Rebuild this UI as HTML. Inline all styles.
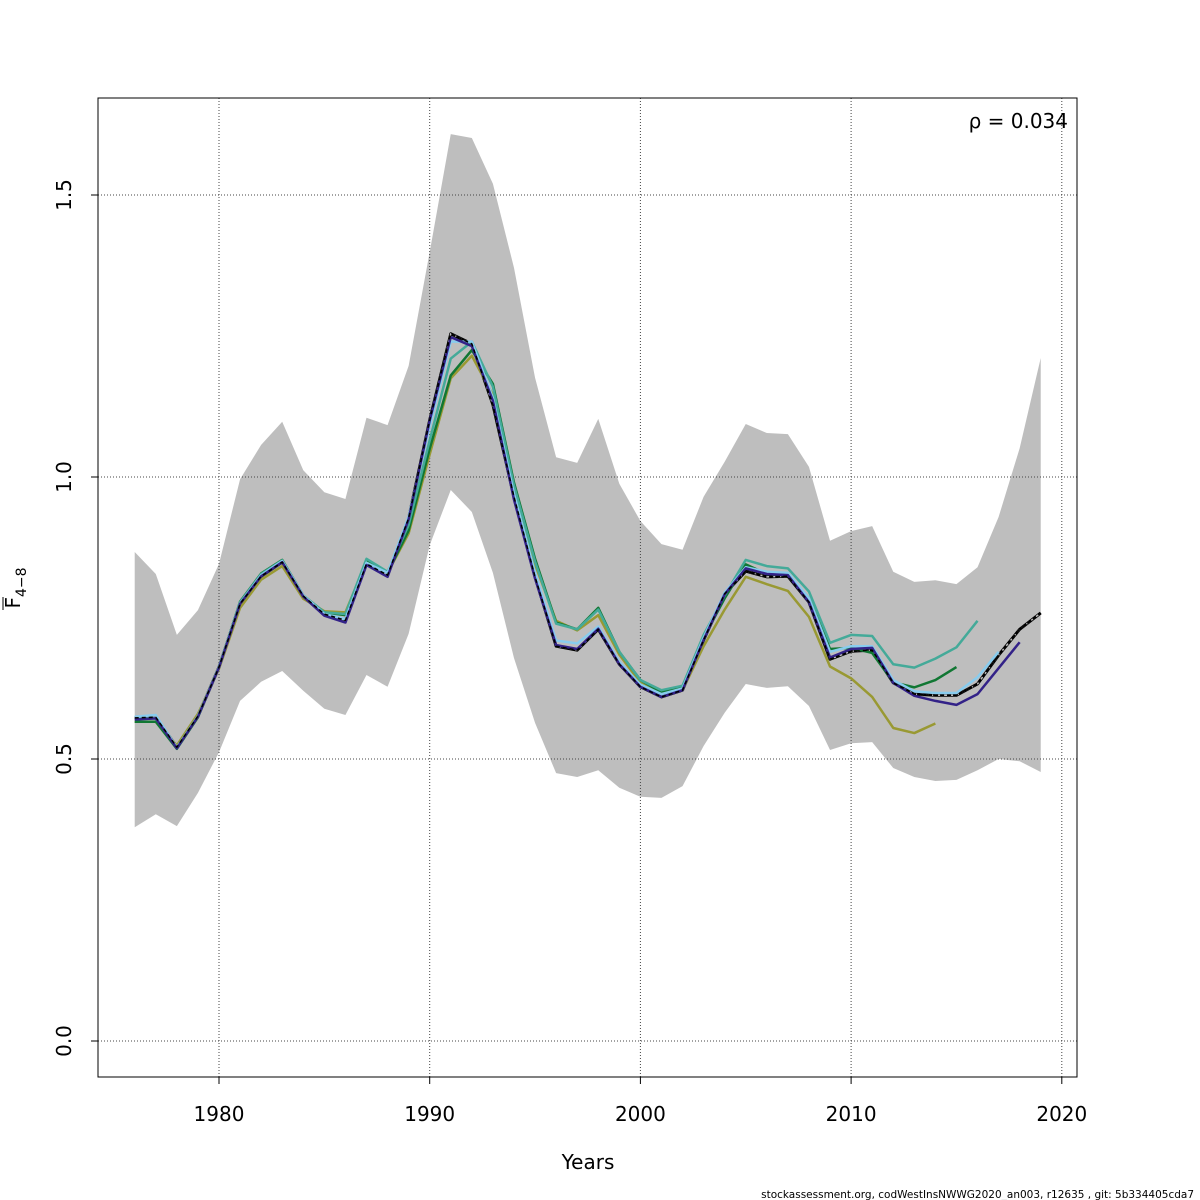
<!DOCTYPE html>
<html><head><meta charset="utf-8"><style>
body{margin:0;background:#fff}
svg{display:block;font-family:"DejaVu Sans","Liberation Sans",sans-serif}
</style></head><body>
<svg id="chart" width="1200" height="1200" viewBox="0 0 1200 1200">
<rect width="1200" height="1200" fill="#fff"/>
<g id="band"></g>
<g id="grid"></g>
<g id="lines"></g>
<rect x="98" y="98" width="979" height="979" fill="none" stroke="#000" stroke-width="1"/>
<g id="axes"></g>
<text x="1068" y="128" font-size="20" text-anchor="end">ρ = 0.034</text>
<text x="588" y="1169" font-size="20" text-anchor="middle">Years</text>
<g transform="translate(20,588) rotate(-90)">
<text x="0" y="0" font-size="20" text-anchor="middle">F<tspan font-size="14" dy="6">4−8</tspan></text>
<line x1="-22" y1="-17" x2="-9" y2="-17" stroke="#000" stroke-width="1"/>
</g>
<text x="1194" y="1198" font-size="10.5" text-anchor="end">stockassessment.org, codWestInsNWWG2020_an003, r12635 , git: 5b334405cda7</text>
</svg>
<script>
const years=[];for(let y=1976;y<=2019;y++)years.push(y);
const upper=[0.867,0.828,0.720,0.764,0.846,0.996,1.057,1.098,1.012,0.973,0.961,1.105,1.092,1.197,1.399,1.608,1.601,1.520,1.371,1.176,1.035,1.025,1.103,0.988,0.922,0.881,0.871,0.965,1.027,1.094,1.078,1.076,1.018,0.887,0.904,0.913,0.832,0.814,0.817,0.810,0.840,0.929,1.051,1.211];
const lower=[0.379,0.402,0.381,0.440,0.512,0.603,0.637,0.656,0.621,0.589,0.578,0.649,0.628,0.722,0.879,0.977,0.938,0.830,0.679,0.564,0.475,0.468,0.480,0.449,0.433,0.431,0.452,0.523,0.582,0.633,0.626,0.629,0.594,0.516,0.528,0.530,0.484,0.468,0.461,0.463,0.480,0.500,0.496,0.477];
const base=[0.573,0.574,0.521,0.576,0.663,0.775,0.824,0.849,0.789,0.757,0.746,0.846,0.826,0.927,1.101,1.254,1.236,1.128,0.965,0.823,0.700,0.693,0.730,0.668,0.628,0.610,0.622,0.711,0.793,0.833,0.823,0.824,0.778,0.677,0.691,0.693,0.635,0.615,0.613,0.613,0.633,0.684,0.730,0.759];
const peel1=[0.570,0.572,0.519,0.575,0.662,0.775,0.824,0.849,0.788,0.754,0.742,0.844,0.823,0.925,1.100,1.248,1.232,1.135,0.960,0.820,0.702,0.695,0.731,0.668,0.628,0.610,0.622,0.711,0.792,0.838,0.828,0.826,0.778,0.680,0.695,0.697,0.635,0.612,0.603,0.596,0.615,0.661,0.707];
const peel2=[0.575,0.578,0.520,0.576,0.663,0.776,0.826,0.851,0.790,0.757,0.748,0.848,0.830,0.930,1.090,1.240,1.240,1.140,0.970,0.830,0.710,0.705,0.735,0.672,0.632,0.615,0.625,0.715,0.795,0.840,0.832,0.830,0.785,0.690,0.700,0.700,0.640,0.620,0.617,0.617,0.645,0.690];
const peel3=[0.572,0.572,0.520,0.576,0.663,0.778,0.828,0.852,0.790,0.760,0.757,0.855,0.832,0.915,1.065,1.210,1.240,1.160,0.985,0.850,0.740,0.730,0.765,0.690,0.640,0.622,0.630,0.720,0.790,0.853,0.842,0.838,0.797,0.706,0.720,0.718,0.668,0.662,0.678,0.698,0.745];
const peel4=[0.566,0.566,0.518,0.574,0.663,0.779,0.829,0.853,0.790,0.760,0.755,0.853,0.830,0.905,1.050,1.180,1.225,1.165,0.990,0.855,0.742,0.730,0.768,0.690,0.640,0.618,0.628,0.715,0.785,0.845,0.828,0.826,0.785,0.695,0.697,0.688,0.636,0.627,0.640,0.663];
const peel5=[0.566,0.566,0.524,0.580,0.660,0.768,0.818,0.842,0.784,0.762,0.760,0.850,0.830,0.900,1.040,1.175,1.215,1.145,0.975,0.845,0.745,0.728,0.755,0.685,0.635,0.615,0.622,0.700,0.765,0.823,0.810,0.798,0.752,0.664,0.643,0.610,0.555,0.546,0.563];
const xTicks=[1980,1990,2000,2010,2020];
const yTicks=[0,0.5,1.0,1.5];
const yTickLabels=["0.0","0.5","1.0","1.5"];
const NS="http://www.w3.org/2000/svg";
const X=y=>219+(y-1980)*21.07;
const Y=v=>1041-v*564;
function mk(tag,attrs,parent){const e=document.createElementNS(NS,tag);for(const k in attrs)e.setAttribute(k,attrs[k]);parent.appendChild(e);return e;}
const band=document.getElementById('band');
let pts=years.map((y,i)=>X(y)+','+Y(upper[i]));
for(let i=years.length-1;i>=0;i--)pts.push(X(years[i])+','+Y(lower[i]));
const poly=mk('polygon',{points:pts.join(' '),fill:'#bebebe',stroke:'none'},band);


const grid=document.getElementById('grid'),axes=document.getElementById('axes');
xTicks.forEach(t=>{
  const g=mk('line',{x1:X(t),x2:X(t),y1:98,y2:1077,stroke:'#444','stroke-width':1,'stroke-dasharray':'1,2'},grid);
  
  
  mk('line',{x1:X(t),x2:X(t),y1:1077,y2:1084,stroke:'#000'},axes);
  const tx=mk('text',{x:X(t),y:1121,'font-size':20,'text-anchor':'middle'},axes);
  tx.textContent=t;
  
  
});
yTicks.forEach((t,i)=>{
  const g=mk('line',{x1:98,x2:1077,y1:Y(t),y2:Y(t),stroke:'#444','stroke-width':1,'stroke-dasharray':'1,2'},grid);
  
  
  mk('line',{x1:91,x2:98,y1:Y(t),y2:Y(t),stroke:'#000'},axes);
  const tx=mk('text',{x:0,y:0,'font-size':20,'text-anchor':'middle',transform:`translate(71,${Y(t)}) rotate(-90)`},axes);
  tx.textContent=yTickLabels[i];
  
  
});
const lines=document.getElementById('lines');
const series=[[peel5,'#999933','peel-5'],[peel4,'#117733','peel-4'],[peel3,'#44AA99','peel-3'],[peel2,'#88CCEE','peel-2'],[peel1,'#332288','peel-1']];
function draw(arr,color,name,extra){
  const p=mk('polyline',Object.assign({points:arr.map((v,i)=>X(years[i])+','+Y(v)).join(' '),fill:'none',stroke:color,'stroke-width':2.5,'stroke-linejoin':'round'},extra||{}),lines);
  
  
}
draw(base,'#000','base-run-outline',{'stroke-width':3});
draw(base,'#bebebe','base-run-dashed',{'stroke-width':1.5,'stroke-dasharray':'3,3'});
series.forEach(s=>draw(s[0],s[1],s[2]+'-line'));
draw(base,'#000','base-run',{'stroke-width':1.5,'stroke-dasharray':'4,3'});
</script>
</body></html>
